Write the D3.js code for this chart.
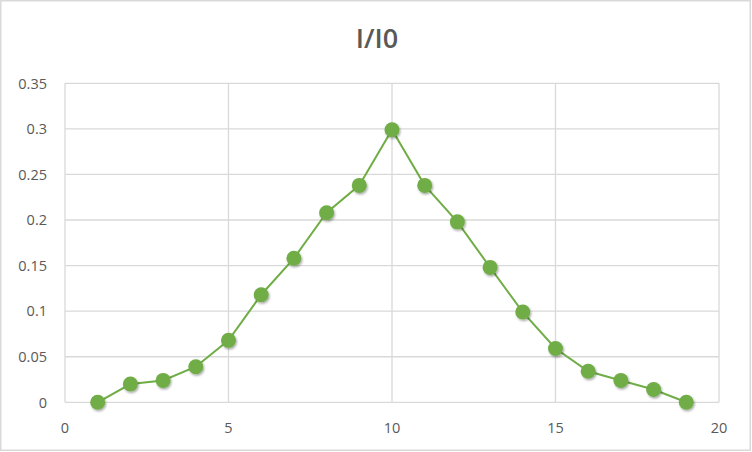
<!DOCTYPE html>
<html><head><meta charset="utf-8">
<script src="https://cdn.jsdelivr.net/npm/d3@7"></script>
<style>body{margin:0;background:#fff;} svg{display:block;}</style>
</head><body>
<svg id="c" width="752" height="452"></svg>
<script>
const xValues = [1,2,3,4,5,6,7,8,9,10,11,12,13,14,15,16,17,18,19];
const yValues = [0,0.02,0.024,0.039,0.068,0.118,0.158,0.208,0.238,0.299,0.238,0.198,0.148,0.099,0.059,0.034,0.024,0.014,0];
const xTicks = [0,5,10,15,20];
const yTicks = [0,0.05,0.1,0.15,0.2,0.25,0.3,0.35];
const title = "I/I0";

const svg = d3.select("#c");
const W=752,H=452;
const x=d3.scaleLinear().domain([0,20]).range([65,719]);
const y=d3.scaleLinear().domain([0,0.35]).range([402.3,83.3]);

svg.append("rect").attr("x",0.75).attr("y",0.75).attr("width",W-2.5).attr("height",H-2.5)
  .attr("fill","#fff").attr("stroke","#d9d9d9").attr("stroke-width",1.5);

const defs=svg.append("defs");
const f=defs.append("filter").attr("id","sh").attr("x","-50%").attr("y","-50%").attr("width","200%").attr("height","200%");
f.append("feDropShadow").attr("dx",1).attr("dy",1.5).attr("stdDeviation",1.2).attr("flood-color","#000").attr("flood-opacity",0.35);

const g=svg.append("g");
g.selectAll(".hg").data(yTicks).join("line")
  .attr("x1",x(0)).attr("x2",x(20)).attr("y1",d=>y(d)).attr("y2",d=>y(d))
  .attr("stroke","#d9d9d9").attr("stroke-width",1.3);
g.selectAll(".vg").data(xTicks).join("line")
  .attr("y1",y(0)).attr("y2",y(0.35)).attr("x1",d=>x(d)).attr("x2",d=>x(d))
  .attr("stroke","#d9d9d9").attr("stroke-width",1.3);

const fmt=d=>String(+d.toFixed(2));
const font="'Open Sans', 'Liberation Sans', sans-serif";
g.selectAll(".yt").data(yTicks).join("text")
  .attr("x",47).attr("y",d=>y(d)).attr("dy","0.36em").attr("text-anchor","end")
  .attr("font-family",font).attr("font-size",14.5).attr("fill","#595959").text(fmt);
g.selectAll(".xt").data(xTicks).join("text")
  .attr("x",d=>x(d)).attr("y",427.3).attr("dy","0.36em").attr("text-anchor","middle")
  .attr("font-family",font).attr("font-size",14.5).attr("fill","#595959").text(fmt);

svg.append("text").attr("x",377).attr("y",47.7).attr("text-anchor","middle")
  .attr("font-family","'Open Sans', sans-serif").attr("font-weight","600").attr("font-size",27)
  .attr("fill","#595959").text(title);

const data=xValues.map((d,i)=>[d,yValues[i]]);
g.append("path").datum(data).attr("fill","none").attr("stroke","#70ad47").attr("stroke-width",2)
  .attr("d",d3.line().x(d=>x(d[0])).y(d=>y(d[1])));
g.selectAll(".pt").data(data).join("circle")
  .attr("cx",d=>x(d[0])).attr("cy",d=>y(d[1])).attr("r",7.5)
  .attr("fill","#70ad47").attr("filter","url(#sh)");
</script>
</body></html>
